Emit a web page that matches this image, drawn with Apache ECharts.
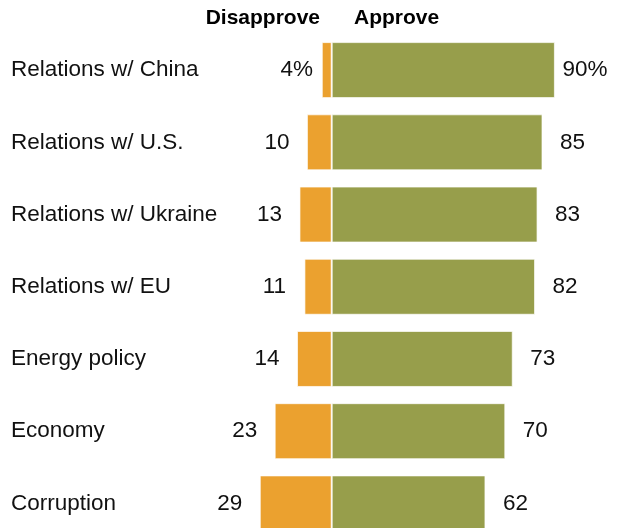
<!DOCTYPE html>
<html><head><meta charset="utf-8">
<script src="https://cdn.jsdelivr.net/npm/echarts@6/dist/echarts.min.js"></script>
<style>html,body{margin:0;padding:0;background:#fff;overflow:hidden}#c{width:618px;height:545px}</style>
</head><body><div id="c"></div>
<script>
const categories = ["Relations w/ China","Relations w/ U.S.","Relations w/ Ukraine","Relations w/ EU","Energy policy","Economy","Corruption"];
const disapprove = [4,10,13,11,14,23,29];
const approve = [90,85,83,82,73,70,62];
const headers = ["Disapprove","Approve"];

const FONT = '"Liberation Sans", Arial, sans-serif';
const chart = echarts.init(document.getElementById('c'));
const gridLeft = 232.5;
chart.setOption({
  animation:false,
  grid:{left:gridLeft, right:38.3, top:34, height:505.5},
  xAxis:{type:'value', min:-40, max:100, show:false},
  yAxis:{type:'category', data:categories, inverse:true,
    axisLine:{show:false}, axisTick:{show:false},
    axisLabel:{align:'left', margin:gridLeft-11, fontSize:22.5, color:'#111', fontFamily:FONT, padding:[4,0,0,0]}},
  graphic:[
    {type:'text', right:618-320, top:7.5, style:{text:headers[0], font:'bold 21px "Liberation Sans", Arial', fill:'#000', textAlign:'right'}},
    {type:'text', left:354, top:7.5, style:{text:headers[1], font:'bold 21px "Liberation Sans", Arial', fill:'#000'}}
  ],
  series:[
    {name:headers[0], type:'bar', stack:'t', barWidth:56,
     data:disapprove.map((v,i)=>i===0?{value:-v,label:{distance:25}}:-v),
     itemStyle:{color:'#EBA12F', borderColor:'rgba(255,255,255,0.7)', borderWidth:1},
     label:{show:true, position:'left', distance:30, align:'center', verticalAlign:'middle',
       fontSize:22.5, color:'#111', fontFamily:FONT, padding:[4,0,0,0],
       formatter:p=>Math.abs(p.value)+(p.dataIndex===0?'%':'')}},
    {name:headers[1], type:'bar', stack:'t', barWidth:56,
     data:approve,
     itemStyle:{color:'#979E4B', borderColor:'rgba(255,255,255,0.7)', borderWidth:1},
     label:{show:true, position:'right', distance:30, align:'center', verticalAlign:'middle',
       fontSize:22.5, color:'#111', fontFamily:FONT, padding:[4,0,0,0],
       formatter:p=>p.value+(p.dataIndex===0?'%':'')}}
  ]
});
</script></body></html>
